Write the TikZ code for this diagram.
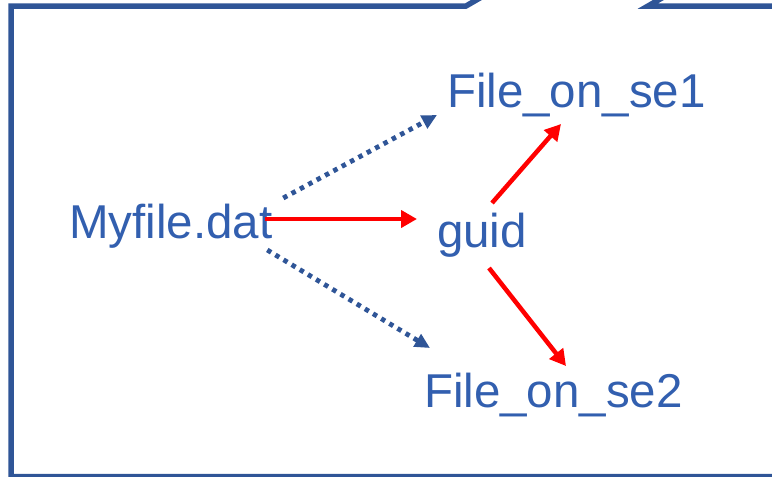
\documentclass[tikz,border=0pt]{standalone}
\usepackage{fontspec}
\setmainfont{Liberation Sans}
\usetikzlibrary{arrows.meta,calc}
\definecolor{frameblue}{RGB}{47,85,151}
\definecolor{textblue}{RGB}{50,95,175}
\definecolor{pured}{RGB}{255,0,0}
\tikzset{
  lbl/.style={inner sep=0pt, outer sep=0pt, anchor=base west, text=textblue,
    font=\fontsize{47.5pt}{50pt}\selectfont},
  redarrow/.style={draw=pured, line width=4.5pt, -{Triangle[length=16pt,width=17pt]}},
  dotarrow/.style={draw=frameblue, line width=4.8pt, dash pattern=on 4.5pt off 5pt,
    -{Triangle[length=15pt,width=14pt]}},
  framepen/.style={draw=frameblue, line width=5.5pt, line join=miter}
}
\begin{document}
\begin{tikzpicture}[x=1pt,y=-1pt]
\useasboundingbox (0,0) rectangle (772,477);
\begin{scope}
\clip (0,0) rectangle (772,477);
\draw[framepen] (511,-20) -- (466,6) -- (11,6) -- (11,476.5) -- (790,476.5);
\draw[framepen] (693,-20) -- (648,6) -- (790,6);
\end{scope}
\node[lbl] (my) at (69,238) {Myfile.dat};
\node[lbl] (guid) at (437,247) {guid};
\node[lbl] (se1) at (447,107) {File\_on\_se1};
\node[lbl] (se2) at (424,407) {File\_on\_se2};
\draw[redarrow] ($(my.base east)+(-7,-19)$) -- ($(guid.base west)+(-20,-28)$);
\draw[redarrow] ($(guid.base west)+(55,-44)$) -- ($(se1.base west)+(114,17)$);
\draw[redarrow] ($(guid.base west)+(52,21)$) -- ($(se2.base west)+(142,-41)$);
\draw[dotarrow] ($(my.base east)+(11,-40)$) -- ($(se1.base west)+(-10,8)$);
\draw[dotarrow] ($(my.base east)+(-5,12)$) -- ($(se2.base west)+(6,-59)$);
\end{tikzpicture}
\end{document}
